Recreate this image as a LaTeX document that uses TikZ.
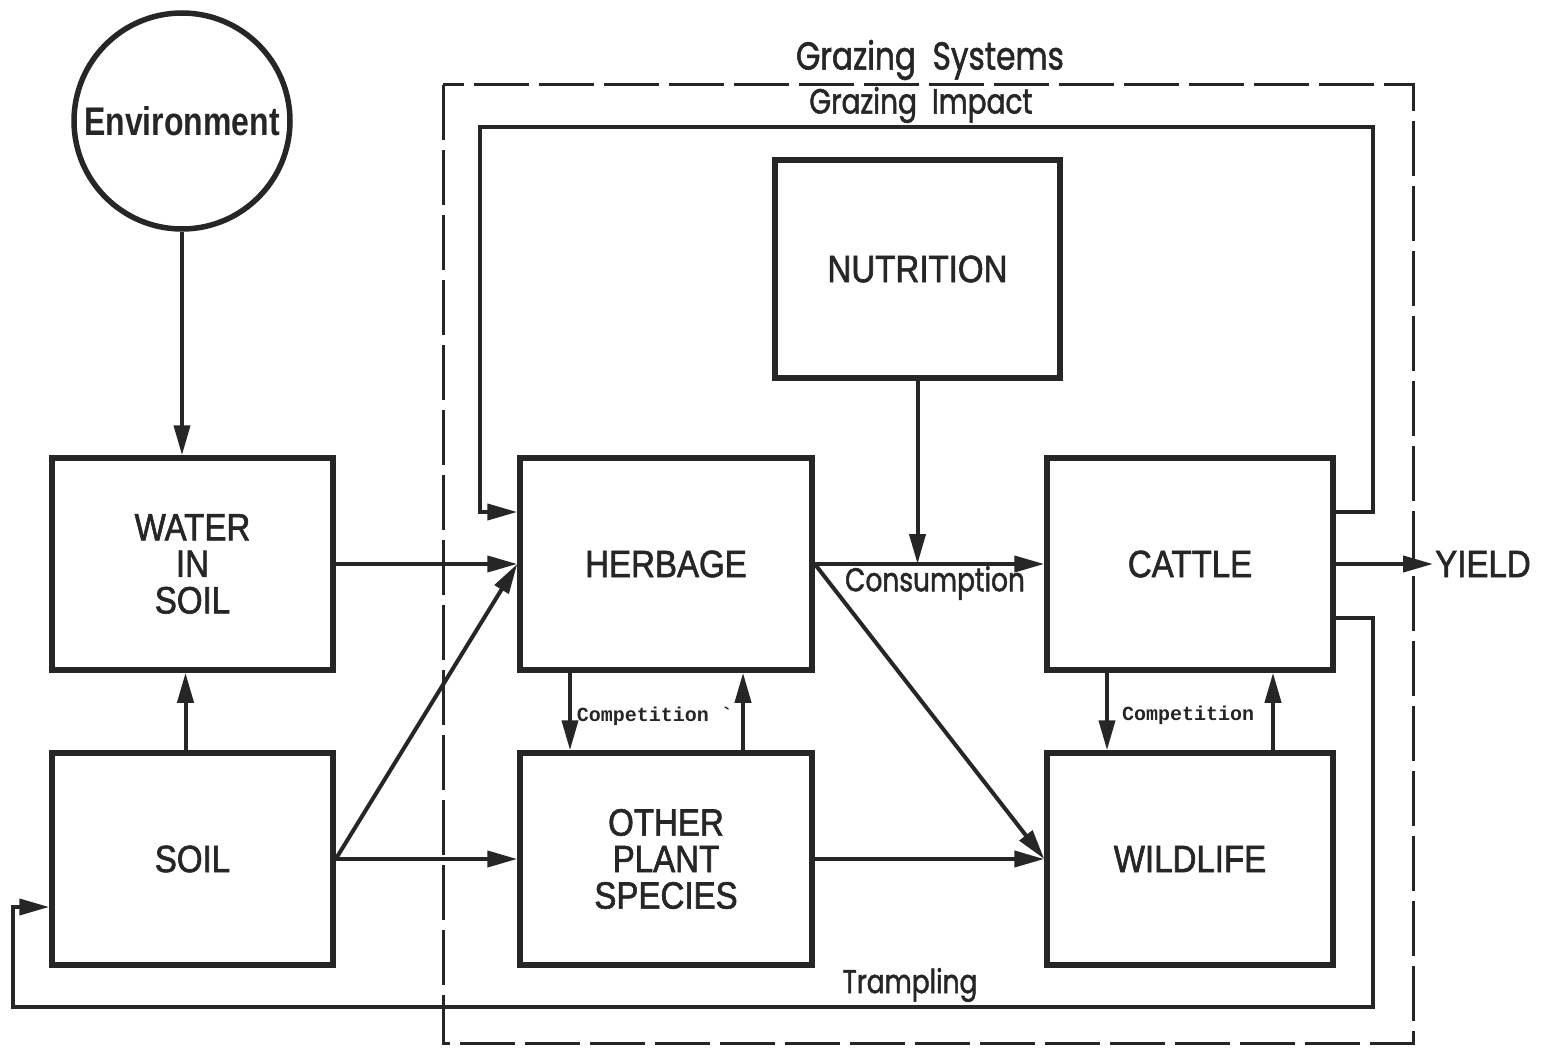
\documentclass[tikz,border=0pt]{standalone}
\usepackage{fontspec}
\setmainfont{Liberation Sans}
\newfontfamily\capsf[FakeStretch=0.87,FakeBold=1.6]{Liberation Sans}
\newfontfamily\envf[FakeStretch=0.8]{Liberation Sans}
\newfontfamily\lowf[FakeStretch=0.8,FakeBold=1.4]{Poppins}
\newfontfamily\monof{Liberation Mono}
\usetikzlibrary{arrows.meta}
\definecolor{ink}{RGB}{38,38,38}
\begin{document}
\begin{tikzpicture}[x=1pt,y=-1pt,
  every node/.style={text=ink},
  box/.style={draw=ink, line width=5.5pt, rectangle, inner sep=0pt, align=center,
              font=\capsf\fontsize{38}{36.5}\selectfont},
  conn/.style={draw=ink, line width=4pt, -{Triangle[length=30pt,width=16pt]}},
  lbl/.style={font=\lowf\fontsize{33}{33}\selectfont, inner sep=0pt},
  comp/.style={font=\monof\bfseries\fontsize{20}{20}\selectfont, inner sep=0pt},
  sysbox/.style={draw=ink, line width=3pt, dash pattern=on 55pt off 10pt}]
\useasboundingbox (0,0) rectangle (1547,1048);
\fill[white] (0,0) rectangle (1547,1048);

% dashed system boundary
\draw[sysbox] (443,85) rectangle (1413,1043);
\node[lbl, font=\lowf\fontsize{39}{39}\selectfont] (gs) at (930,60) {Grazing\ \ Systems};
\node[lbl, font=\lowf\fontsize{35}{35}\selectfont] (gi) at (921,105) {Grazing\ \ Impact};

% nodes
\node[draw=ink, line width=5.5pt, circle, minimum size=216pt, inner sep=0pt,
      font=\envf\bfseries\fontsize{40}{40}\selectfont] (env) at (182,121) {Environment};
\node[box, minimum width=281pt, minimum height=212pt] (water) at (192.5,564) {WATER\\IN\\SOIL};
\node[box, minimum width=281pt, minimum height=212pt] (soil) at (192.5,859) {SOIL};
\node[box, minimum width=292pt, minimum height=212pt] (herb) at (666,564) {HERBAGE};
\node[box, minimum width=292pt, minimum height=212pt] (other) at (666,859) {OTHER\\PLANT\\SPECIES};
\node[box, minimum width=285pt, minimum height=218pt] (nut) at (917.5,269) {NUTRITION};
\node[box, minimum width=286pt, minimum height=212pt] (cattle) at (1190,564) {CATTLE};
\node[box, minimum width=286pt, minimum height=212pt] (wild) at (1190,859) {WILDLIFE};
\node[font=\capsf\fontsize{38}{38}\selectfont, anchor=west, inner sep=2pt] (yield) at (1433,564) {YIELD};

% connectors
\draw[conn] (env.south) -- (env.south |- water.north);
\draw[conn] ([xshift=-7pt]soil.north) -- ([xshift=-7pt]water.south);
\draw[conn] (water.east) -- (herb.west);
\draw[conn] (soil.east) -- (herb.west);
\draw[conn] (soil.east) -- (other.west);
\draw[conn] (herb.east) -- (cattle.west);
\draw[conn] (nut.south) -- (nut.south |- herb.east);
\draw[conn] (herb.east) -- (wild.west);
\draw[conn] (other.east) -- (wild.west);
\draw[conn] (cattle.east) -- (yield.west);

\draw[conn] ([xshift=-96pt]herb.south) -- ([xshift=-96pt]other.north);
\draw[conn] ([xshift=77pt]other.north) -- ([xshift=77pt]herb.south);
\draw[conn] ([xshift=-83pt]cattle.south) -- ([xshift=-83pt]wild.north);
\draw[conn] ([xshift=83pt]wild.north) -- ([xshift=83pt]cattle.south);

% grazing impact loop
\coordinate (gi1) at (1373,127);
\coordinate (gi2) at (480,512);
\draw[conn] ([yshift=52pt]cattle.east) -| (gi1) -| (gi2) -- ([yshift=52pt]herb.west);

% trampling loop
\coordinate (tr1) at (1373,1007);
\coordinate (tr2) at (13,907);
\draw[conn] ([yshift=-54pt]cattle.east) -| (tr1) -| (tr2) -- ([yshift=-48pt]soil.west);

% labels
\node[lbl] (cons) at (935,583) {Consumption};
\node[lbl] (tramp) at (910,985) {Trampling};
\node[comp] (c1) at (655,716) {Competition `};
\node[comp] (c2) at (1188,715) {Competition};
\end{tikzpicture}
\end{document}
